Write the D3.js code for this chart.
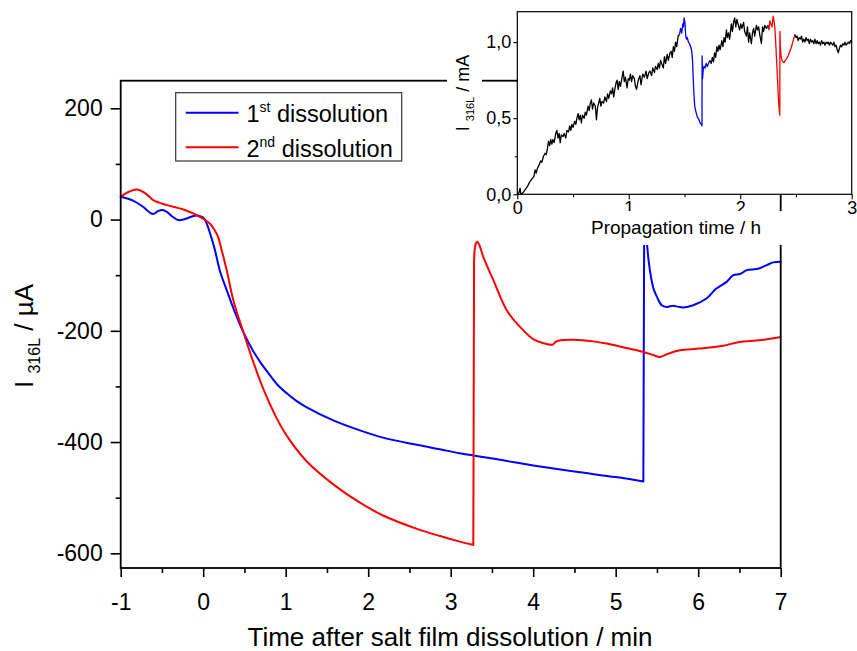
<!DOCTYPE html>
<html>
<head>
<meta charset="utf-8">
<script src="https://cdn.jsdelivr.net/npm/d3@7"></script>
<style>
  body { margin: 0; background: #fff; }
  svg { display: block; }
  text { font-family: "Liberation Sans", Arial, sans-serif; fill: #000; }
</style>
</head>
<body>
<svg id="chart" width="857" height="651"></svg>
<script>
// ---- Main panel: current vs. time after salt film dissolution (min, µA) ----
const firstT = [-1, -0.85, -0.73, -0.61, -0.55, -0.5, -0.44, -0.37, -0.3, -0.22, -0.1, -0.02, 0.01, 0.05, 0.1, 0.143, 0.2, 0.285, 0.38, 0.486, 0.6, 0.7, 0.8, 0.9, 1.01, 1.12, 1.25, 1.577, 1.9, 2.18, 2.59, 2.87, 3.11, 3.27, 3.6, 4.0, 4.5, 5.0, 5.335, 5.345, 5.36, 5.38, 5.4, 5.43, 5.46, 5.5, 5.557, 5.618, 5.698, 5.76, 5.82, 5.94, 6.1, 6.22, 6.345, 6.425, 6.507, 6.588, 6.71, 6.83, 6.91, 7.0];
const firstI = [41, 34, 23, 10, 15, 17, 14, 5, -1, 1, 7, 5, 2, -10, -33, -55, -91, -127, -165, -202, -235, -258, -278, -297, -312, -325, -337, -361, -379, -392, -405, -413, -420, -424, -432, -442, -453, -463, -471, -20, -15, -45, -75, -105, -125, -139, -154, -157, -155, -157, -158, -154, -142, -124, -112, -100, -98, -91, -89, -82, -77, -76];

const secondT = [-1, -0.9, -0.806, -0.7, -0.605, -0.44, -0.24, -0.04, 0.08, 0.13, 0.18, 0.224, 0.285, 0.365, 0.486, 0.607, 0.73, 0.89, 1.01, 1.25, 1.577, 1.9, 2.18, 2.59, 2.87, 3.11, 3.274, 3.283, 3.29, 3.305, 3.323, 3.35, 3.395, 3.517, 3.679, 3.84, 4.0, 4.12, 4.235, 4.27, 4.33, 4.486, 4.73, 4.89, 5.13, 5.335, 5.46, 5.537, 5.64, 5.78, 6.02, 6.3, 6.5, 6.745, 7.0];
const secondI = [41, 50, 54, 47, 35, 26, 18, 5, -7, -17, -31, -55, -91, -145, -202, -256, -305, -357, -388, -434, -476, -509, -532, -556, -569, -579, -585, -80, -55, -43, -40, -47, -67, -109, -163, -193, -215, -222, -225, -220, -217, -216, -219, -223, -231, -238, -244, -247, -241, -235, -232, -227, -220, -217, -211];

const mainXTicks = [-1, 0, 1, 2, 3, 4, 5, 6, 7];
const mainXMinor = [-0.5, 0.5, 1.5, 2.5, 3.5, 4.5, 5.5, 6.5];
const mainYTicks = [200, 0, -200, -400, -600];
const mainYMinor = [100, -100, -300, -500];

const legendLabels = [
  { num: "1", sup: "st", rest: " dissolution", color: "#0000ff" },
  { num: "2", sup: "nd", rest: " dissolution", color: "#ff0000" }
];

// ---- Inset: current vs. propagation time (h, mA) ----
const propBlackA = [[0.00,0.00],[0.015,0.01],[0.025,0.04],[0.032,0.00],[0.05,0.01],[0.07,0.03],[0.09,0.05],[0.11,0.08],[0.13,0.10],[0.15,0.12],[0.16,0.16],[0.17,0.14],[0.18,0.17],[0.20,0.20],[0.21,0.22],[0.22,0.21],[0.235,0.25],[0.25,0.27],[0.26,0.26],[0.27,0.30],[0.28,0.35],[0.29,0.32],[0.30,0.36],[0.31,0.33],[0.32,0.36],[0.33,0.34],[0.345,0.40],[0.355,0.42],[0.365,0.37],[0.375,0.40],[0.385,0.34],[0.395,0.39],[0.41,0.38],[0.42,0.40],[0.435,0.37],[0.445,0.42],[0.46,0.41],[0.47,0.45],[0.48,0.42],[0.49,0.46],[0.50,0.44],[0.515,0.48],[0.525,0.46],[0.535,0.50],[0.545,0.53],[0.555,0.49],[0.565,0.52],[0.575,0.47],[0.585,0.52],[0.60,0.50],[0.61,0.54],[0.62,0.52],[0.635,0.58],[0.645,0.55],[0.655,0.60],[0.665,0.62],[0.675,0.56],[0.685,0.60],[0.70,0.58],[0.71,0.49],[0.72,0.57],[0.73,0.60],[0.74,0.63],[0.75,0.58],[0.76,0.61],[0.775,0.60],[0.785,0.64],[0.80,0.61],[0.81,0.66],[0.82,0.63],[0.835,0.68],[0.845,0.66],[0.855,0.70],[0.865,0.64],[0.875,0.69],[0.885,0.73],[0.895,0.75],[0.905,0.69],[0.915,0.74],[0.925,0.71],[0.94,0.77],[0.95,0.81],[0.96,0.74],[0.97,0.77],[0.985,0.70],[0.995,0.76],[1.005,0.75],[1.015,0.79],[1.025,0.74],[1.035,0.78],[1.05,0.76],[1.06,0.71],[1.07,0.69],[1.085,0.75],[1.10,0.78],[1.11,0.72],[1.125,0.79],[1.14,0.77],[1.155,0.81],[1.165,0.76],[1.18,0.80],[1.19,0.81],[1.205,0.78],[1.215,0.83],[1.23,0.80],[1.24,0.84],[1.255,0.82],[1.265,0.86],[1.275,0.83],[1.285,0.88],[1.30,0.85],[1.31,0.83],[1.32,0.905],[1.33,0.86],[1.345,0.92],[1.355,0.88],[1.37,0.93],[1.38,0.94],[1.39,0.90],[1.40,0.97],[1.41,0.94],[1.42,1.00],[1.43,0.97],[1.443,1.04],[1.455,1.05]];
const propBlue = [[1.455,1.05],[1.465,1.09],[1.475,1.06],[1.485,1.12],[1.49,1.10],[1.497,1.16],[1.505,1.12],[1.51,1.05],[1.517,1.02],[1.525,1.03],[1.535,1.00],[1.545,0.99],[1.555,0.97],[1.565,0.94],[1.572,0.88],[1.577,0.78],[1.582,0.70],[1.587,0.63],[1.592,0.58],[1.60,0.55],[1.61,0.52],[1.62,0.50],[1.63,0.49],[1.64,0.47],[1.65,0.46],[1.657,0.45],[1.658,0.91],[1.662,0.76],[1.668,0.82],[1.675,0.84],[1.685,0.83],[1.695,0.86],[1.705,0.84],[1.715,0.86],[1.727,0.88]];
const propBlackB = [[1.727,0.88],[1.74,0.86],[1.75,0.90],[1.76,0.87],[1.77,0.93],[1.78,0.90],[1.79,0.97],[1.80,0.94],[1.81,0.98],[1.82,0.95],[1.835,1.01],[1.845,0.97],[1.855,1.03],[1.865,1.00],[1.876,1.08],[1.885,1.03],[1.895,1.06],[1.905,1.02],[1.92,1.12],[1.93,1.07],[1.94,1.13],[1.95,1.16],[1.96,1.10],[1.97,1.15],[1.98,1.12],[1.995,1.08],[2.005,1.12],[2.015,1.09],[2.03,1.13],[2.04,1.07],[2.055,1.04],[2.065,1.10],[2.075,1.00],[2.085,1.06],[2.10,0.99],[2.11,1.06],[2.12,1.09],[2.13,1.04],[2.145,1.11],[2.155,1.08],[2.165,1.10],[2.175,1.05],[2.19,0.99],[2.20,1.10],[2.21,1.07],[2.22,1.11],[2.235,1.09],[2.25,1.11]];
const propRed = [[2.25,1.11],[2.258,1.08],[2.265,1.14],[2.275,1.12],[2.285,1.10],[2.295,1.17],[2.303,1.14],[2.31,1.10],[2.318,1.00],[2.325,0.90],[2.333,0.78],[2.34,0.67],[2.347,0.58],[2.355,0.52],[2.356,1.07],[2.36,0.98],[2.366,0.91],[2.375,0.88],[2.385,0.87],[2.393,0.865],[2.405,0.88],[2.415,0.89],[2.43,0.91],[2.445,0.94],[2.46,0.97],[2.475,1.01],[2.49,1.05]];
const propBlackC = [[2.49,1.05],[2.50,1.03],[2.51,1.04],[2.52,1.01],[2.53,1.03],[2.54,1.02],[2.55,1.04],[2.56,1.00],[2.57,1.02],[2.58,1.00],[2.59,1.03],[2.60,1.01],[2.61,1.02],[2.62,0.99],[2.63,1.02],[2.64,1.00],[2.65,1.01],[2.66,0.99],[2.67,1.02],[2.68,0.99],[2.69,1.01],[2.70,0.99],[2.71,1.00],[2.72,0.98],[2.73,1.01],[2.74,0.99],[2.75,1.00],[2.76,0.98],[2.77,1.00],[2.78,0.99],[2.79,1.00],[2.80,0.98],[2.81,1.00],[2.82,0.99],[2.83,0.98],[2.84,1.00],[2.85,0.97],[2.86,0.98],[2.87,0.95],[2.88,0.93],[2.89,0.96],[2.90,0.98],[2.91,0.97],[2.92,0.99],[2.93,0.98],[2.94,1.00],[2.95,0.98],[2.96,0.99],[2.97,1.00],[2.98,0.99],[2.99,1.01],[3.00,1.00]];

const insetXTicks = [0, 1, 2, 3];
const insetXMinor = [0.5, 1.5, 2.5];
const insetYTicks = [0, 0.5, 1.0];
const insetYMinor = [0.25, 0.75];

// ---- Layout ----
const svg = d3.select("#chart");
const M = { left: 120.7, right: 780.7, top: 80.7, bottom: 568 };
const I = { left: 517.3, right: 851.7, top: 11.7, bottom: 194.3 };

const x = d3.scaleLinear().domain([-1, 7]).range([M.left, M.right]);
const y = d3.scaleLinear().domain([-626.4, 249.6]).range([M.bottom, M.top]);
const xi = d3.scaleLinear().domain([0, 3]).range([I.left, I.right]);
const yi = d3.scaleLinear().domain([0, 1.2]).range([I.bottom, I.top]);

const zip = (a, b) => a.map((v, i) => [v, b[i]]);

// Smooth curve through the samples; abrupt current steps are drawn as straight risers.
const smooth = d3.line().x(d => x(d[0])).y(d => y(d[1])).curve(d3.curveCatmullRom.alpha(0.5));
const straight = d3.line().x(d => x(d[0])).y(d => y(d[1]));
function steppedPath(pts, jump) {
  const pieces = [];
  const risers = [];
  let cur = [pts[0]];
  for (let i = 1; i < pts.length; i++) {
    if (Math.abs(pts[i][1] - pts[i - 1][1]) > jump) {
      pieces.push(cur);
      risers.push([pts[i - 1], pts[i]]);
      cur = [pts[i]];
    } else cur.push(pts[i]);
  }
  pieces.push(cur);
  return pieces.map(p => smooth(p)).concat(risers.map(r => straight(r))).join(" ");
}

svg.append("path").attr("d", steppedPath(zip(firstT, firstI), 150))
  .attr("fill", "none").attr("stroke", "#0000ff").attr("stroke-width", 2)
  .attr("stroke-linecap", "round").attr("stroke-linejoin", "round");
svg.append("path").attr("d", steppedPath(zip(secondT, secondI), 150))
  .attr("fill", "none").attr("stroke", "#ff0000").attr("stroke-width", 2)
  .attr("stroke-linecap", "round").attr("stroke-linejoin", "round");

// main axes
const plain = d => String(d);
function styleAxis(g, size) {
  g.select(".domain").remove();
  g.selectAll(".tick line").attr("stroke", "#000").attr("stroke-width", 1.6);
  g.selectAll(".tick text").attr("fill", "#000").style("font-size", size + "px")
    .style("font-family", '"Liberation Sans", Arial, sans-serif');
}
const gx = svg.append("g").attr("transform", `translate(0,${M.bottom})`)
  .call(d3.axisBottom(x).tickValues(mainXTicks).tickSize(9).tickPadding(17).tickFormat(plain));
styleAxis(gx, 23);
const gxm = svg.append("g").attr("transform", `translate(0,${M.bottom})`)
  .call(d3.axisBottom(x).tickValues(mainXMinor).tickSize(5).tickFormat(""));
styleAxis(gxm, 23);
const gy = svg.append("g").attr("transform", `translate(${M.left},0)`)
  .call(d3.axisLeft(y).tickValues(mainYTicks).tickSize(10).tickPadding(8).tickFormat(plain));
styleAxis(gy, 23);
const gym = svg.append("g").attr("transform", `translate(${M.left},0)`)
  .call(d3.axisLeft(y).tickValues(mainYMinor).tickSize(5).tickFormat(""));
styleAxis(gym, 23);

// main frame
svg.append("rect").attr("x", M.left).attr("y", M.top)
  .attr("width", M.right - M.left).attr("height", M.bottom - M.top)
  .attr("fill", "none").attr("stroke", "#000").attr("stroke-width", 1.8);

// axis titles
svg.append("text").attr("x", 450).attr("y", 646)
  .attr("text-anchor", "middle").style("font-size", "26px")
  .text("Time after salt film dissolution / min");

const yTitle = svg.append("text")
  .attr("transform", "translate(33,336) rotate(-90)")
  .attr("text-anchor", "middle").style("font-size", "26px");
yTitle.append("tspan").text("I ");
yTitle.append("tspan").attr("dy", 7).style("font-size", "16px").text("316L");
yTitle.append("tspan").attr("dy", -7).text(" / µA");

// legend
const lg = svg.append("g");
lg.append("rect").attr("x", 175.7).attr("y", 92.7).attr("width", 226).attr("height", 68.3)
  .attr("fill", "#fff").attr("stroke", "#333").attr("stroke-width", 1.2);
legendLabels.forEach((d, i) => {
  const ly = 112.7 + i * 34.6;
  lg.append("line").attr("x1", 185.7).attr("x2", 238.5).attr("y1", ly).attr("y2", ly)
    .attr("stroke", d.color).attr("stroke-width", 2);
  const t = lg.append("text").attr("x", 246.5).attr("y", ly + 9.5).style("font-size", "23.5px");
  t.append("tspan").text(d.num);
  t.append("tspan").attr("dy", -10).style("font-size", "14px").text(d.sup);
  t.append("tspan").attr("dy", 10).text(d.rest);
});

// ---- Inset ----
svg.append("rect").attr("x", I.left).attr("y", I.top)
  .attr("width", I.right - I.left).attr("height", I.bottom - I.top)
  .attr("fill", "#fff");

const insetLine = d3.line().x(d => xi(d[0])).y(d => yi(d[1]));
[[propBlackA, "#000"], [propBlue, "#0000ff"], [propBlackB, "#000"], [propRed, "#ff0000"], [propBlackC, "#000"]]
  .forEach(([data, color]) => {
    svg.append("path").datum(data).attr("d", insetLine)
      .attr("fill", "none").attr("stroke", color).attr("stroke-width", 1.3)
      .attr("stroke-linejoin", "round");
  });

const fmtComma = d => d3.format(".1f")(d).replace(".", ",");
function styleInsetAxis(g) {
  g.select(".domain").remove();
  g.selectAll(".tick line").attr("stroke", "#000").attr("stroke-width", 1.1);
  g.selectAll(".tick text").attr("fill", "#000").style("font-size", "18px")
    .style("font-family", '"Liberation Sans", Arial, sans-serif');
}
styleInsetAxis(svg.append("g").attr("transform", `translate(0,${I.bottom})`)
  .call(d3.axisBottom(xi).tickValues(insetXTicks).tickSize(5).tickPadding(2).tickFormat(plain)));
styleInsetAxis(svg.append("g").attr("transform", `translate(0,${I.bottom})`)
  .call(d3.axisBottom(xi).tickValues(insetXMinor).tickSize(3).tickFormat("")));
styleInsetAxis(svg.append("g").attr("transform", `translate(${I.left},0)`)
  .call(d3.axisLeft(yi).tickValues(insetYTicks).tickSize(4).tickPadding(2).tickFormat(fmtComma)));
styleInsetAxis(svg.append("g").attr("transform", `translate(${I.left},0)`)
  .call(d3.axisLeft(yi).tickValues(insetYMinor).tickSize(2.5).tickFormat("")));

svg.append("rect").attr("x", I.left).attr("y", I.top)
  .attr("width", I.right - I.left).attr("height", I.bottom - I.top)
  .attr("fill", "none").attr("stroke", "#000").attr("stroke-width", 1.2);

// inset titles on white backing
svg.append("rect").attr("x", 585).attr("y", 211).attr("width", 202).attr("height", 34).attr("fill", "#fff");
svg.append("text").attr("x", 676).attr("y", 234).attr("text-anchor", "middle")
  .style("font-size", "19px").text("Propagation time / h");

svg.append("rect").attr("x", 447).attr("y", 35).attr("width", 35).attr("height", 115).attr("fill", "#fff");
const iyTitle = svg.append("text")
  .attr("transform", "translate(469,93) rotate(-90)")
  .attr("text-anchor", "middle").style("font-size", "18px");
iyTitle.append("tspan").text("I ");
iyTitle.append("tspan").attr("dy", 5).style("font-size", "11px").text("316L");
iyTitle.append("tspan").attr("dy", -5).text(" / mA");
</script>
</body>
</html>
